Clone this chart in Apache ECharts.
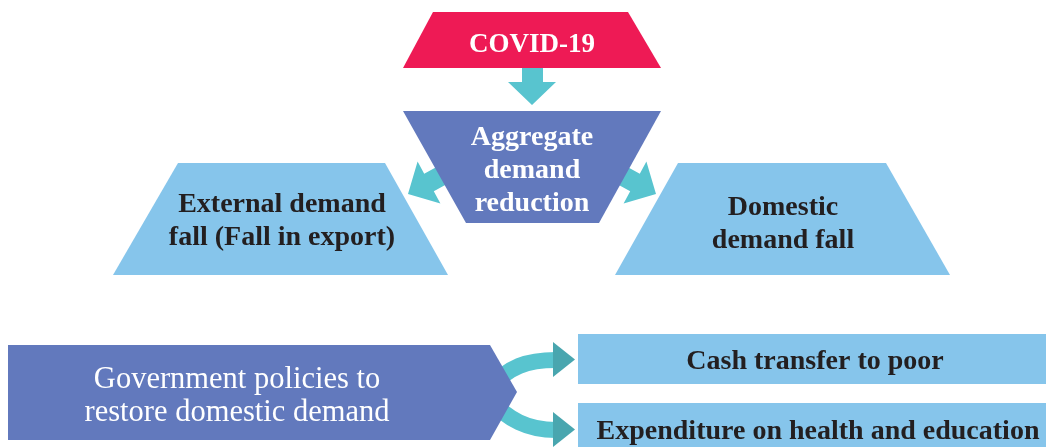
<!DOCTYPE html>
<html><head><meta charset="utf-8">
<script src="https://cdn.jsdelivr.net/npm/echarts@6/dist/echarts.min.js"></script>
<style>html,body{margin:0;padding:0;background:#fff}#c{width:1046px;height:447px}</style>
</head><body><div id="c"></div>
<script>
// ---- content (data) ----
const boxLabels = [
  'COVID-19',
  'Aggregate\ndemand\nreduction',
  'External demand\nfall (Fall in export)',
  'Domestic\ndemand fall',
  'Government policies to\nrestore domestic demand',
  'Cash transfer to poor',
  'Expenditure on health and education'
];
const boxRoles = ['cause', 'central', 'effect', 'effect', 'policy', 'measure', 'measure'];
const links = [[0, 1], [1, 2], [1, 3], [4, 5], [4, 6]];

// ---- layout (diagram units = pixels of the 1046x447 canvas) ----
const boxShapes = [
  [[433, 12], [628, 12], [661, 68], [403, 68]],
  [[403, 111], [661, 111], [599, 223], [466, 223]],
  [[178, 163], [385, 163], [448, 275], [113, 275]],
  [[678, 163], [886, 163], [950, 275], [615, 275]],
  [[8, 345], [490, 345], [517, 392], [490, 440], [8, 440]],
  [[578, 334], [1046, 334], [1046, 384], [578, 384]],
  [[578, 403], [1046, 403], [1046, 447], [578, 447]]
];
const labelCenters = [[532, 45], [532, 171], [282, 221], [783, 224], [237, 396], [815, 362], [818, 432]];
const straightArrows = [
  [[522, 67], [543, 67], [543, 82], [556, 82], [532, 105], [508, 82], [522, 82]],
  [[468.9, 172.1], [459.3, 154.5], [424.2, 173.7], [417.6, 161.6], [408, 194], [440.4, 203.4], [433.8, 191.3]],
  [[595.1, 172.1], [604.7, 154.5], [639.8, 173.7], [646.4, 161.6], [656, 194], [623.6, 203.4], [630.2, 191.3]]
];
const curvedArrows = [
  { curve: [[488, 390], [508, 366], [528, 360], [556, 360]], head: [[553, 342], [575, 359.5], [553, 377]] },
  { curve: [[488, 398], [508, 420], [528, 430], [556, 430]], head: [[553, 412], [575, 429.5], [553, 447]] }
];

const roleStyle = {
  cause:   { fill: '#EE1A55', color: '#ffffff', weight: 'bold', size: 27 },
  central: { fill: '#6279BD', color: '#ffffff', weight: 'bold', size: 28 },
  effect:  { fill: '#86C5EB', color: '#231F20', weight: 'bold', size: 28 },
  policy:  { fill: '#6279BD', color: '#ffffff', weight: 'normal', size: 30.5 },
  measure: { fill: '#86C5EB', color: '#231F20', weight: 'bold', size: 28 }
};
const FONT = '"Liberation Serif", "DejaVu Serif", serif';

const chart = echarts.init(document.getElementById('c'), null, { renderer: 'canvas' });
chart.setOption({
  animation: false,
  backgroundColor: '#ffffff',
  grid: { left: 0, right: 0, top: 0, bottom: 0 },
  xAxis: { type: 'value', min: 0, max: 1046, show: false },
  yAxis: { type: 'value', min: 0, max: 447, inverse: true, show: false },
  series: [
    {
      type: 'custom',
      z: 1,
      clip: false,
      data: links.map((l, i) => ({ name: boxLabels[l[0]] + ' -> ' + boxLabels[l[1]], value: [i, i] })),
      renderItem(params, api) {
        const i = params.dataIndex;
        if (i < straightArrows.length) {
          return {
            type: 'polygon',
            shape: { points: straightArrows[i].map(p => api.coord(p)) },
            style: { fill: '#58C4CF' }
          };
        }
        const ca = curvedArrows[i - straightArrows.length];
        const c = ca.curve.map(p => api.coord(p));
        return {
          type: 'group',
          children: [
            {
              type: 'bezierCurve',
              shape: { x1: c[0][0], y1: c[0][1], cpx1: c[1][0], cpy1: c[1][1], cpx2: c[2][0], cpy2: c[2][1], x2: c[3][0], y2: c[3][1] },
              style: { stroke: '#58C4CF', lineWidth: 16, fill: null }
            },
            {
              type: 'polygon',
              shape: { points: ca.head.map(p => api.coord(p)) },
              style: { fill: '#49A6AF' }
            }
          ]
        };
      }
    },
    {
      type: 'custom',
      z: 2,
      clip: false,
      data: boxLabels.map((n, i) => ({ name: n, value: labelCenters[i] })),
      renderItem(params, api) {
        const i = params.dataIndex;
        const st = roleStyle[boxRoles[i]];
        const c = api.coord(labelCenters[i]);
        return {
          type: 'group',
          children: [
            {
              type: 'polygon',
              shape: { points: boxShapes[i].map(p => api.coord(p)) },
              style: { fill: st.fill }
            },
            {
              type: 'text',
              x: c[0], y: c[1],
              style: {
                text: boxLabels[i],
                fill: st.color,
                fontFamily: FONT,
                fontWeight: st.weight,
                fontSize: st.size,
                lineHeight: 33,
                align: 'center',
                verticalAlign: 'middle'
              }
            }
          ]
        };
      }
    }
  ]
});
</script>
</body></html>
